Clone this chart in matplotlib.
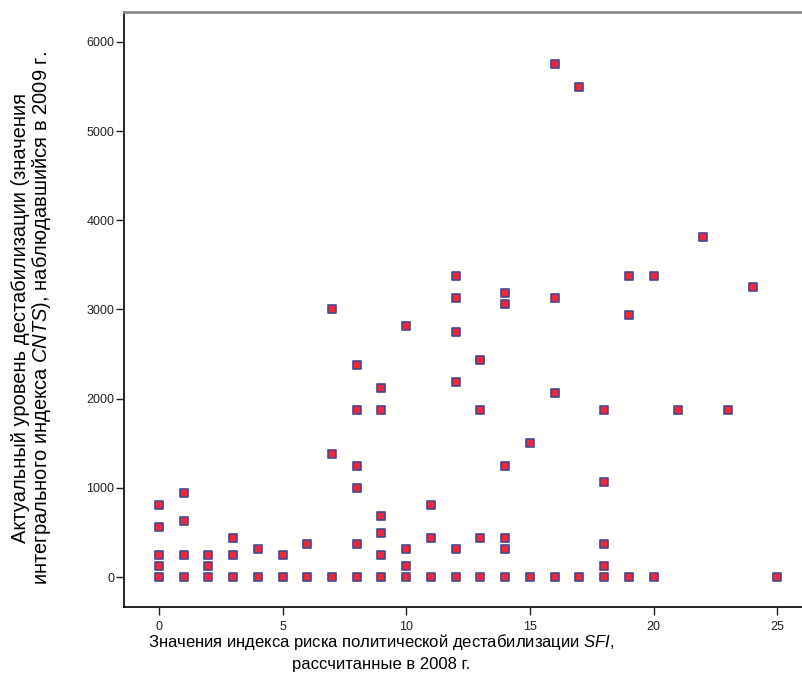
import matplotlib
matplotlib.use("Agg")
import matplotlib.pyplot as plt

plt.rcParams['font.family'] = ['Liberation Sans', 'DejaVu Sans']
plt.rcParams['mathtext.fontset'] = 'custom'
plt.rcParams['mathtext.it'] = 'Liberation Sans:italic'
plt.rcParams['mathtext.rm'] = 'Liberation Sans'

# SFI index value (2008) and CNTS level (2009)
sfi_2008 = [0, 0, 0, 0, 0,
            1, 1, 1, 1,
            2, 2, 2,
            3, 3, 3,
            4, 4,
            5, 5,
            6, 6,
            7, 7, 7,
            8, 8, 8, 8, 8, 8,
            9, 9, 9, 9, 9, 9,
            10, 10, 10, 10,
            11, 11, 11,
            12, 12, 12, 12, 12, 12,
            13, 13, 13, 13,
            14, 14, 14, 14, 14, 14,
            15, 15,
            16, 16, 16, 16,
            17, 17,
            18, 18, 18, 18, 18,
            19, 19, 19,
            20, 20,
            21, 22, 23, 24, 25]
cnts_2009 = [0, 125, 250, 560, 810,
             0, 250, 625, 940,
             0, 125, 250,
             0, 250, 440,
             0, 310,
             0, 250,
             0, 370,
             0, 1375, 3000,
             0, 370, 1000, 1250, 1875, 2375,
             0, 250, 495, 685, 1875, 2125,
             0, 125, 310, 2810,
             0, 440, 810,
             0, 310, 2185, 2750, 3125, 3375,
             0, 440, 1875, 2435,
             0, 310, 440, 1250, 3060, 3185,
             0, 1500,
             0, 2060, 3125, 5750,
             0, 5500,
             0, 125, 370, 1060, 1875,
             0, 2940, 3375,
             0, 3375,
             1875, 3810, 1875, 3250, 0]

fig = plt.figure(figsize=(8.02, 6.84), dpi=100)
ax = fig.add_axes([0.1546, 0.1126, 0.8454, 0.8699])

ax.scatter(sfi_2008, cnts_2009, marker='s', s=30, facecolor='#ec283c',
           edgecolor='#4b4690', linewidth=1.2, zorder=3)

ax.set_xlim(-1.41, 26.0)
ax.set_ylim(-336, 6336)
ax.set_xticks([0, 5, 10, 15, 20, 25])
ax.set_yticks([0, 1000, 2000, 3000, 4000, 5000, 6000])
ax.tick_params(direction='out', length=6, width=1, labelsize=9, colors='#222222')
ax.tick_params(axis='x', pad=4)
ax.tick_params(axis='y', pad=1)

ax.spines['right'].set_visible(False)
ax.spines['top'].set_color('#8c8c8c')
ax.spines['top'].set_linewidth(2)
ax.spines['left'].set_linewidth(1.2)
ax.spines['bottom'].set_linewidth(1.2)

ax.set_xlabel('Значения индекса риска политической дестабилизации $\\mathit{SFI}$,\n'
              'рассчитанные в 2008 г.', fontsize=12, linespacing=1.45)
ax.xaxis.set_label_coords(0.379, -0.042, transform=ax.transAxes)
ax.xaxis.label.set_verticalalignment('top')

ax.set_ylabel('Актуальный уровень дестабилизации (значения\n'
              'интегрального индекса $\\mathit{CNTS}$), наблюдавшийся в 2009 г.',
              fontsize=14.5, linespacing=0.98)
ax.yaxis.set_label_coords(-0.105, 0.486, transform=ax.transAxes)

fig.savefig('out.png', dpi=100)
